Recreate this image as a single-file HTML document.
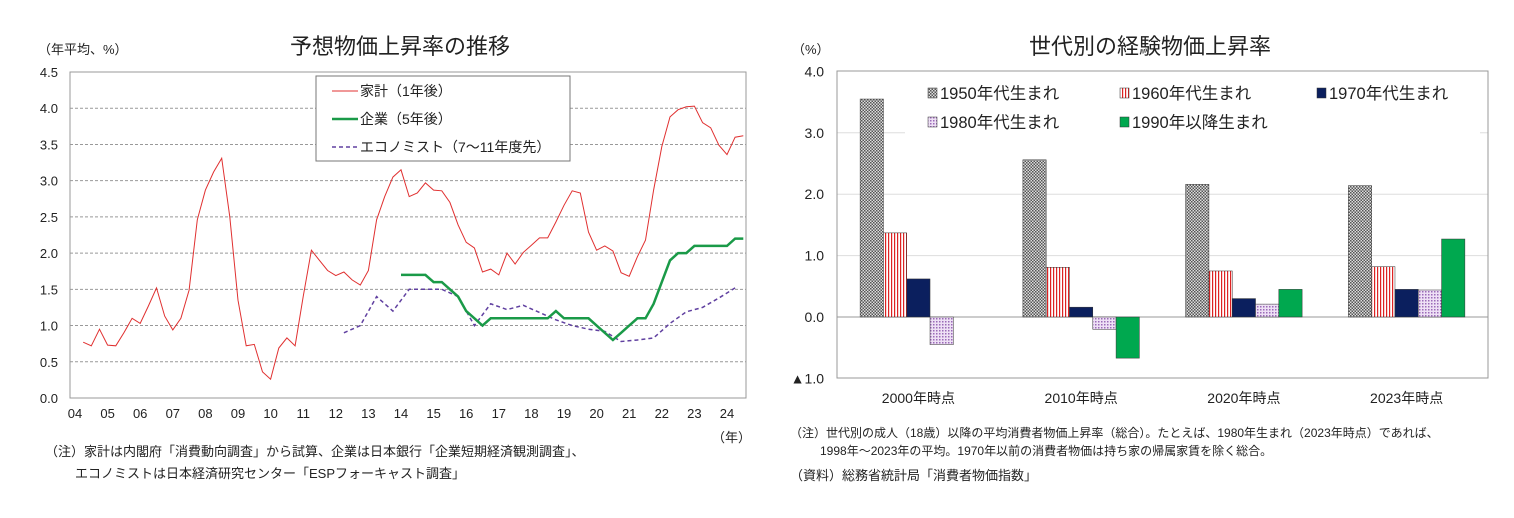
<!DOCTYPE html>
<html><head><meta charset="utf-8">
<style>
body{margin:0;background:#fff;width:1514px;height:513px;overflow:hidden;font-family:"Liberation Sans","Noto Sans CJK JP",sans-serif;}
svg text{font-family:"Liberation Sans","Noto Sans CJK JP",sans-serif;}
</style></head>
<body>
<svg id="s" width="1514" height="513" xmlns="http://www.w3.org/2000/svg">
<defs>
<pattern id="p1950" width="3" height="3" patternUnits="userSpaceOnUse"><rect width="3" height="3" fill="#ddd"/><rect width="1.5" height="1.5" fill="#555"/><rect x="1.5" y="1.5" width="1.5" height="1.5" fill="#555"/></pattern>
<pattern id="p1960" width="3" height="4" patternUnits="userSpaceOnUse"><rect width="3" height="4" fill="#fff"/><rect width="1.2" height="4" fill="#d22"/></pattern>
<pattern id="p1980" width="3" height="3" patternUnits="userSpaceOnUse"><rect width="3" height="3" fill="#eee0f5"/><rect width="1.5" height="1.5" fill="#9a6ab8"/></pattern>
</defs>
<g id="left"></g>
<g id="right"></g>
</svg>
<script>
// ---- Left chart data ----
const hhStart = 2004.25;
const householdValues = [0.77,0.72,0.95,0.73,0.72,0.9,1.1,1.03,1.27,1.52,1.13,0.94,1.1,1.49,2.46,2.87,3.12,3.31,2.5,1.35,0.72,0.74,0.36,0.26,0.69,0.83,0.72,1.4,2.04,1.9,1.76,1.69,1.74,1.63,1.56,1.76,2.46,2.78,3.05,3.15,2.78,2.83,2.97,2.87,2.86,2.7,2.39,2.15,2.07,1.74,1.78,1.7,2.0,1.85,2.01,2.11,2.21,2.21,2.43,2.66,2.86,2.83,2.29,2.04,2.1,2.03,1.73,1.68,1.95,2.18,2.87,3.47,3.88,3.98,4.02,4.03,3.8,3.73,3.49,3.36,3.6,3.62];
const firmStart = 2014.0;
const firmValues = [1.7,1.7,1.7,1.7,1.6,1.6,1.5,1.4,1.2,1.1,1.0,1.1,1.1,1.1,1.1,1.1,1.1,1.1,1.1,1.2,1.1,1.1,1.1,1.1,1.0,0.9,0.8,0.9,1.0,1.1,1.1,1.3,1.6,1.9,2.0,2.0,2.1,2.1,2.1,2.1,2.1,2.2,2.2];
const econStart = 2012.25;
const econValues = [0.9,1.0,1.4,1.2,1.5,1.5,1.5,1.4,1.0,1.3,1.22,1.28,1.18,1.08,1.0,0.95,0.92,0.78,0.8,0.83,1.03,1.19,1.25,1.38,1.52];
const leftYTicks = ["0.0","0.5","1.0","1.5","2.0","2.5","3.0","3.5","4.0","4.5"];
const leftXTicks = ["04","05","06","07","08","09","10","11","12","13","14","15","16","17","18","19","20","21","22","23","24"];
// ---- Right chart data ----
const categories = ["2000年時点","2010年時点","2020年時点","2023年時点"];
const seriesNames = ["1950年代生まれ","1960年代生まれ","1970年代生まれ","1980年代生まれ","1990年以降生まれ"];
const s1950 = [3.55,2.56,2.16,2.14];
const s1960 = [1.37,0.81,0.75,0.82];
const s1970 = [0.62,0.16,0.30,0.45];
const s1980 = [-0.45,-0.20,0.21,0.44];
const s1990 = [null,-0.67,0.45,1.27];
const rightYTicks = ["▲1.0","0.0","1.0","2.0","3.0","4.0"];

const NS="http://www.w3.org/2000/svg";
function mk(parent,tag,attrs,txt){const e=document.createElementNS(NS,tag);for(const k in attrs)e.setAttribute(k,attrs[k]);if(txt!==undefined)e.textContent=txt;parent.appendChild(e);return e;}

// Left chart
const L=document.getElementById('left');
const lx=t=>75+(t-2004)*32.6;
const ly=v=>398-v*72.44;
let e;
e=mk(L,'text',{x:400,y:54,'font-size':22,'text-anchor':'middle',fill:'#222'},'予想物価上昇率の推移');


e=mk(L,'text',{x:38,y:54,'font-size':13,fill:'#222'},'（年平均、%）');


e=mk(L,'rect',{x:70,y:72,width:676,height:326,fill:'none',stroke:'#999','stroke-width':1});


leftYTicks.forEach((t,i)=>{const v=parseFloat(t);
 if(v>0&&v<4.5){e=mk(L,'line',{x1:70,x2:746,y1:ly(v),y2:ly(v),stroke:'#999','stroke-dasharray':'3,2','stroke-width':1});
 
 }
 e=mk(L,'text',{x:58,y:ly(v)+5,'font-size':13,'text-anchor':'end',fill:'#222'},t);
 
 });
leftXTicks.forEach((t,i)=>{e=mk(L,'text',{x:lx(2004+i),y:418,'font-size':13,'text-anchor':'middle',fill:'#222'},t);
 
 });
e=mk(L,'text',{x:712,y:442,'font-size':13,fill:'#222'},'（年）');


function pts(start,step,vals){return vals.map((v,i)=>lx(start+i*step).toFixed(1)+','+ly(v).toFixed(1)).join(' ');}
e=mk(L,'polyline',{points:pts(hhStart,0.25,householdValues),fill:'none',stroke:'#e03030','stroke-width':1});


e=mk(L,'polyline',{points:pts(econStart,0.5,econValues),fill:'none',stroke:'#6040a0','stroke-width':1.5,'stroke-dasharray':'4,3'});


e=mk(L,'polyline',{points:pts(firmStart,0.25,firmValues),fill:'none',stroke:'#1a9a48','stroke-width':2.5});


const lg=mk(L,'g',{});


mk(lg,'rect',{x:316,y:76,width:254,height:85,fill:'#fff',stroke:'#777','stroke-width':1});
const legs=[['家計（1年後）','#e03030',1,''],['企業（5年後）','#1a9a48',2.5,''],['エコノミスト（7～11年度先）','#6040a0',1.5,'4,3']];
legs.forEach((l,i)=>{const y=91+i*28;
 e=mk(lg,'line',{x1:332,x2:358,y1:y,y2:y,stroke:l[1],'stroke-width':l[2],'stroke-dasharray':l[3]});
 
 
 e=mk(lg,'text',{x:360,y:y+5,'font-size':14,fill:'#222'},l[0]);
 
 });
e=mk(L,'text',{x:45,y:456,'font-size':13,fill:'#222'},'（注）家計は内閣府「消費動向調査」から試算、企業は日本銀行「企業短期経済観測調査」、');


e=mk(L,'text',{x:75,y:478,'font-size':13,fill:'#222'},'エコノミストは日本経済研究センター「ESPフォーキャスト調査」');



// Right chart
const R=document.getElementById('right');
const PL=837, PR=1488;
const ry=v=>317-v*61.4;
e=mk(R,'text',{x:1150,y:54,'font-size':22,'text-anchor':'middle',fill:'#222'},'世代別の経験物価上昇率');


e=mk(R,'text',{x:792,y:54,'font-size':13,fill:'#222'},'（%）');


rightYTicks.forEach(t=>{const v=t.startsWith('▲')?-parseFloat(t.slice(1)):parseFloat(t);
 if(v>-1&&v<4){e=mk(R,'line',{x1:PL,x2:PR,y1:ry(v),y2:ry(v),stroke:v===0?'#999':'#ddd','stroke-width':1});
 
 }
 e=mk(R,'text',{x:824,y:ry(v)+5,'font-size':14,'text-anchor':'end',fill:'#222'},t);
 
 });
e=mk(R,'rect',{x:PL,y:71,width:PR-PL,height:307,fill:'none',stroke:'#999','stroke-width':1});


e=mk(R,'rect',{x:905,y:78,width:575,height:56,fill:'#fff'});


const fills=['url(#p1950)','url(#p1960)','#0b1f5e','url(#p1980)','#00a84f'];
const series=[s1950,s1960,s1970,s1980,s1990];
const gw=(PR-PL)/4, bw=23.3;
categories.forEach((c,gi)=>{const cx=PL+gw*(gi+0.5);
 e=mk(R,'text',{x:cx,y:403,'font-size':14,'text-anchor':'middle',fill:'#222'},c);
 
 
 series.forEach((s,si)=>{const v=s[gi]; if(v===null)return;
  const x=cx-2.5*bw+si*bw; const y0=ry(0), y1=ry(v);
  e=mk(R,'rect',{x:x,y:Math.min(y0,y1),width:bw,height:Math.abs(y1-y0),fill:fills[si],stroke:'#333','stroke-width':0.5});
  
  });});
const legPos=[[928,93],[1120,93],[1317,93],[928,122],[1120,122]];
seriesNames.forEach((n,i)=>{const [x,y]=legPos[i];
 e=mk(R,'rect',{x:x,y:y-5,width:9,height:10,fill:fills[i],stroke:'#333','stroke-width':0.5});
 
 
 e=mk(R,'text',{x:x+12,y:y+6,'font-size':16.5,fill:'#222'},n);
 
 });
e=mk(R,'text',{x:790,y:437,'font-size':12,fill:'#222'},'（注）世代別の成人（18歳）以降の平均消費者物価上昇率（総合）。たとえば、1980年生まれ（2023年時点）であれば、');


e=mk(R,'text',{x:820,y:455,'font-size':12,fill:'#222'},'1998年～2023年の平均。1970年以前の消費者物価は持ち家の帰属家賃を除く総合。');


e=mk(R,'text',{x:790,y:480,'font-size':13,fill:'#222'},'（資料）総務省統計局「消費者物価指数」');


</script>
</body></html>
